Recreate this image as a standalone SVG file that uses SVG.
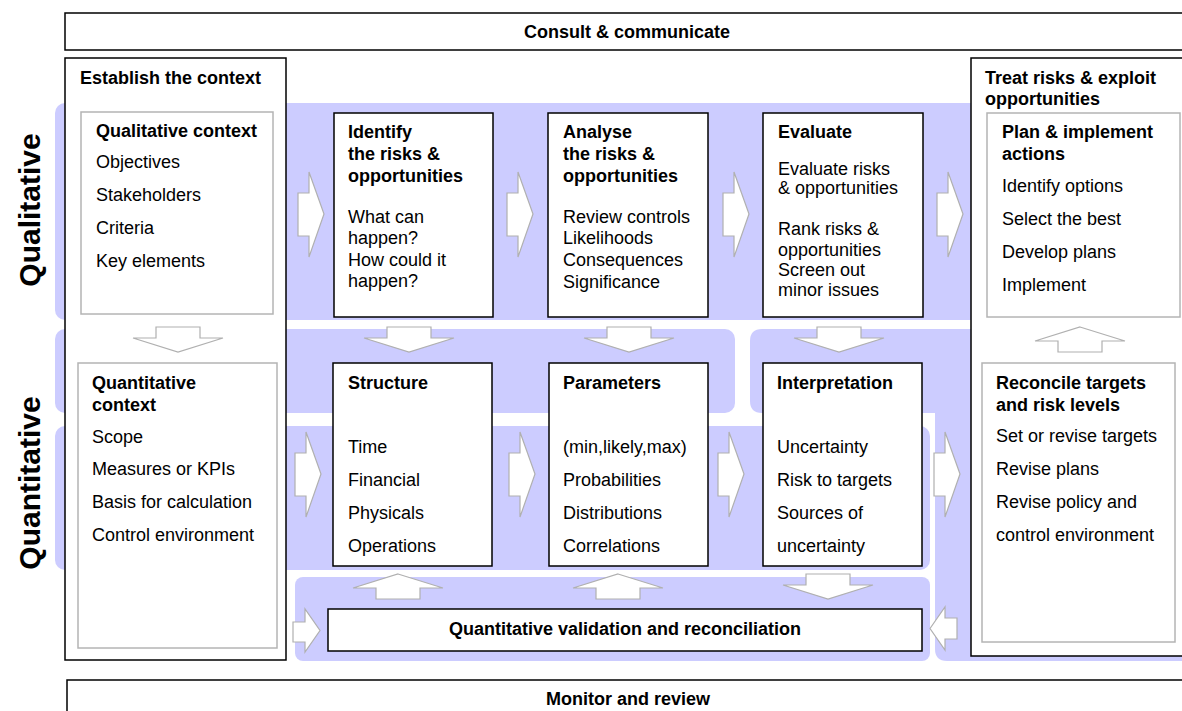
<svg xmlns="http://www.w3.org/2000/svg" width="1182" height="711" viewBox="0 0 1182 711">
<style>
text{font-family:"Liberation Sans",Arial,sans-serif;font-size:18px;fill:#000}
.b{font-weight:bold}
.c{text-anchor:middle}
.side{font-weight:bold;font-size:30px;text-anchor:middle}
.band{fill:#ccccff}
.box{fill:#fff;stroke:#000;stroke-width:1.5}
.gbox{fill:#fff;stroke:#b4b4b4;stroke-width:1.5}
.arr{fill:#fff;stroke:#b0b0b0;stroke-width:1.2;stroke-linejoin:miter}
</style>
<defs>
<path id="ar" d="M0,21 H11 V0 L26,42 L11,85 V64 H0 Z"/>
<path id="ad" d="M23,0 H67 V11 H90 L45,25 L0,11 H23 Z"/>
<path id="au" d="M45,0 L90,14 H67 V25 H23 V14 H0 Z"/>
<path id="ars" d="M0,13 H12 V0 L27,21.5 L12,43 V33 H0 Z"/>
<path id="als" d="M0,21.5 L15,0 V11 H27 V32 H15 V43 Z"/>
</defs>

<g id="bands">
<rect class="band" x="55" y="103" width="930" height="217" rx="10"/>
<rect class="band" x="55" y="329" width="680" height="84" rx="10"/>
<path class="band" d="M762,329 H1195 V661 H947 Q935,661 935,649 V413 H762 Q750,413 750,401 V341 Q750,329 762,329 Z"/>
<rect class="band" x="55" y="426" width="875" height="144" rx="10"/>
<rect class="band" x="295" y="577" width="635" height="84" rx="8"/>
</g>

<g id="side-labels">
<text class="side" transform="translate(40,210) rotate(-90)">Qualitative</text>
<text class="side" transform="translate(40,483) rotate(-90)">Quantitative</text>
</g>

<g id="consult">
<rect class="box" x="65" y="13" width="1130" height="37"/>
<text class="b c" x="627" y="38">Consult &amp; communicate</text>
</g>

<g id="monitor">
<rect class="box" x="67" y="680" width="1130" height="50"/>
<text class="b c" x="628" y="705">Monitor and review</text>
</g>

<g id="establish">
<rect class="box" x="65" y="58" width="221" height="602"/>
<text class="b" x="80" y="84">Establish the context</text>
</g>

<g id="qual-context">
<rect class="gbox" x="81" y="112" width="192" height="202"/>
<text class="b" x="96" y="137">Qualitative context</text>
<text x="96" y="168">Objectives</text>
<text x="96" y="201">Stakeholders</text>
<text x="96" y="234">Criteria</text>
<text x="96" y="267">Key elements</text>
</g>

<g id="quant-context">
<rect class="gbox" x="78" y="363" width="199" height="285"/>
<text class="b" x="92" y="389">Quantitative</text>
<text class="b" x="92" y="411">context</text>
<text x="92" y="443">Scope</text>
<text x="92" y="475">Measures or KPIs</text>
<text x="92" y="508">Basis for calculation</text>
<text x="92" y="541">Control environment</text>
</g>

<g id="identify">
<rect class="box" x="334" y="113" width="159" height="204"/>
<text class="b" x="348" y="138">Identify</text>
<text class="b" x="348" y="160">the risks &amp;</text>
<text class="b" x="348" y="182">opportunities</text>
<text x="348" y="223">What can</text>
<text x="348" y="244">happen?</text>
<text x="348" y="266">How could it</text>
<text x="348" y="287">happen?</text>
</g>

<g id="analyse">
<rect class="box" x="548" y="113" width="160" height="204"/>
<text class="b" x="563" y="138">Analyse</text>
<text class="b" x="563" y="160">the risks &amp;</text>
<text class="b" x="563" y="182">opportunities</text>
<text x="563" y="223">Review controls</text>
<text x="563" y="244">Likelihoods</text>
<text x="563" y="266">Consequences</text>
<text x="563" y="288">Significance</text>
</g>

<g id="evaluate">
<rect class="box" x="763" y="113" width="160" height="204"/>
<text class="b" x="778" y="138">Evaluate</text>
<text x="778" y="175">Evaluate risks</text>
<text x="778" y="194">&amp; opportunities</text>
<text x="778" y="235">Rank risks &amp;</text>
<text x="778" y="256">opportunities</text>
<text x="778" y="276">Screen out</text>
<text x="778" y="296">minor issues</text>
</g>

<g id="treat">
<rect class="box" x="971" y="58" width="225" height="598"/>
<text class="b" x="985" y="84">Treat risks &amp; exploit</text>
<text class="b" x="985" y="105">opportunities</text>
</g>

<g id="plan">
<rect class="gbox" x="987" y="113" width="193" height="204"/>
<text class="b" x="1002" y="138">Plan &amp; implement</text>
<text class="b" x="1002" y="160">actions</text>
<text x="1002" y="192">Identify options</text>
<text x="1002" y="225">Select the best</text>
<text x="1002" y="258">Develop plans</text>
<text x="1002" y="291">Implement</text>
</g>

<g id="structure">
<rect class="box" x="333" y="363" width="159" height="203"/>
<text class="b" x="348" y="389">Structure</text>
<text x="348" y="453">Time</text>
<text x="348" y="486">Financial</text>
<text x="348" y="519">Physicals</text>
<text x="348" y="552">Operations</text>
</g>

<g id="parameters">
<rect class="box" x="549" y="363" width="159" height="203"/>
<text class="b" x="563" y="389">Parameters</text>
<text x="563" y="453">(min,likely,max)</text>
<text x="563" y="486">Probabilities</text>
<text x="563" y="519">Distributions</text>
<text x="563" y="552">Correlations</text>
</g>

<g id="interpretation">
<rect class="box" x="763" y="363" width="159" height="203"/>
<text class="b" x="777" y="389">Interpretation</text>
<text x="777" y="453">Uncertainty</text>
<text x="777" y="486">Risk to targets</text>
<text x="777" y="519">Sources of</text>
<text x="777" y="552">uncertainty</text>
</g>

<g id="reconcile">
<rect class="gbox" x="982" y="363" width="193" height="279"/>
<text class="b" x="996" y="389">Reconcile targets</text>
<text class="b" x="996" y="411">and risk levels</text>
<text x="996" y="442">Set or revise targets</text>
<text x="996" y="475">Revise plans</text>
<text x="996" y="508">Revise policy and</text>
<text x="996" y="541">control environment</text>
</g>

<g id="validation">
<rect class="box" x="328" y="609" width="594" height="42"/>
<text class="b c" x="625" y="635">Quantitative validation and reconciliation</text>
</g>

<g id="connectors">
<use href="#ar" class="arr" x="298" y="172"/>
<use href="#ar" class="arr" x="507" y="172"/>
<use href="#ar" class="arr" x="723" y="172"/>
<use href="#ar" class="arr" x="937" y="172"/>
<use href="#ad" class="arr" x="133" y="327"/>
<use href="#ad" class="arr" x="364" y="327"/>
<use href="#ad" class="arr" x="584" y="327"/>
<use href="#ad" class="arr" x="794" y="327"/>
<use href="#au" class="arr" x="1035" y="327"/>
<use href="#ar" class="arr" x="295" y="432"/>
<use href="#ar" class="arr" x="509" y="432"/>
<use href="#ar" class="arr" x="718" y="432"/>
<use href="#ar" class="arr" x="934" y="432"/>
<use href="#au" class="arr" x="353" y="574"/>
<use href="#au" class="arr" x="573" y="574"/>
<use href="#ad" class="arr" x="783" y="574"/>
<use href="#ars" class="arr" x="293" y="609"/>
<use href="#als" class="arr" x="930" y="607"/>
</g>
</svg>
